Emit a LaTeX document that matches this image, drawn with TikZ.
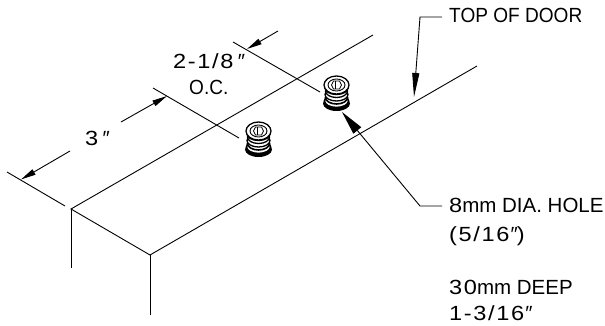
\documentclass[tikz,border=0pt]{standalone}
\usepackage{fontspec}
\setmainfont{Liberation Sans}
\newfontfamily\dg[FakeStretch=1.15,LetterSpace=8]{Liberation Sans}
\newfontfamily\nr[FakeStretch=0.93]{Liberation Sans}
\usetikzlibrary{arrows.meta}
\tikzset{
  thinline/.style={draw=black,line width=0.9pt},
  tipped/.style={thinline,-{Triangle[length=15pt,width=6pt]}},
  lbl/.style={font=\fontsize{20.5}{24}\selectfont,inner sep=0pt,anchor=base west},
  insertring/.style={draw=black,line width=1.3pt,fill=white},
}
\newcommand{\insertfig}[2]{%
  \begin{scope}[shift={(#1,#2)}]
    \fill[black] (0,18.5) ellipse (13.5 and 7.5);
    \draw[insertring,line width=1.6pt] (0,16) ellipse (12 and 6.5);
    \draw[insertring,line width=1.6pt] (0,12.5) ellipse (11 and 6.5);
    \draw[insertring] (0,9.5) ellipse (11.5 and 6.5);
    \draw[insertring] (0,6) ellipse (11 and 6.5);
    \draw[insertring] (0,3) ellipse (11.5 and 6.5);
    \draw[insertring] (0,0) ellipse (12.5 and 9);
    \draw[draw=black,line width=0.9pt] (0,0) ellipse (8.5 and 6);
    \draw[draw=black,line width=0.8pt] (-3,-4) -- (3,-4) -- (5,0) -- (3,4) -- (-3,4) -- (-5,0) -- cycle;
    \draw[draw=black,line width=0.8pt] (-1,-4) -- (-1,4);
  \end{scope}}
\begin{document}
\begin{tikzpicture}[x=1pt,y=-1pt]
\useasboundingbox (0,0) rectangle (605,326);
% door
\coordinate (a) at (71,209);
\coordinate (b) at (150,255);
\coordinate (c) at (373,35);
\coordinate (d) at (477,66);
\coordinate (a2) at (71,268);
\coordinate (b2) at (150,315);
\draw[thinline] (c) -- (a) -- (b) -- (d);
\draw[thinline] (a) -- (a2);
\draw[thinline] (b) -- (b2);
% extension lines
\coordinate (e1) at (7,172); \coordinate (e2) at (65,206);
\coordinate (e3) at (153,88); \coordinate (e4) at (239,138);
\coordinate (e5) at (233,42); \coordinate (e6) at (320,92);
\draw[thinline] (e1) -- (e2);
\draw[thinline] (e3) -- (e4);
\draw[thinline] (e5) -- (e6);
% dimension arrows
\coordinate (f1) at (70,151); \coordinate (t1) at (21,179.5);
\coordinate (f2) at (121,122); \coordinate (t2) at (167,96);
\coordinate (f3) at (278,31); \coordinate (t3) at (247,49);
\draw[tipped] (f1) -- (t1);
\draw[tipped] (f2) -- (t2);
\draw[tipped] (f3) -- (t3);
% inserts
\insertfig{258.5}{131}
\insertfig{336.5}{85}
% leaders
\coordinate (l1) at (442,17); \coordinate (l2) at (420,17); \coordinate (l3) at (414,97);
\draw[thinline,-{Triangle[length=24pt,width=7pt]}] (l1) -- (l2) -- (l3);
\coordinate (h1) at (442,206); \coordinate (h2) at (420,206); \coordinate (h3) at (342,112);
\draw[thinline,-{Triangle[length=24pt,width=10pt]}] (h1) -- (h2) -- (h3);
% text
\node[lbl] (top) at (449,23) {\nr TOP OF DOOR};
\node[lbl] (dia) at (449,212) {{\dg 8}mm DIA. HOLE};
\node[lbl] (fra) at (449,241) {{\dg (5/16}{\itshape\char"2033}{\dg )}};
\node[lbl] (dep) at (449,294) {{\dg 30}mm DEEP};
\node[lbl] (inc) at (449,320) {{\dg 1-3/16}{\itshape\char"2033}};
\node[lbl] (thr) at (85,146) {{\dg 3}\,{\itshape\char"2033}};
\node[lbl] (two) at (173,69) {{\dg 2-1/8}\,{\itshape\char"2033}};
\node[lbl] (oc) at (189,95) {\nr O.C.};
\end{tikzpicture}
\end{document}
